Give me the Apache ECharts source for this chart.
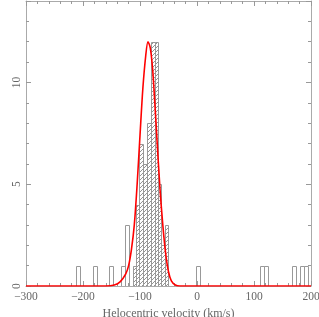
<!DOCTYPE html>
<html><head><meta charset="utf-8">
<script src="https://cdn.jsdelivr.net/npm/echarts@6/dist/echarts.min.js"></script>
<style>html,body{margin:0;padding:0;background:#fff}#c{width:319px;height:317px}</style>
</head><body><div id="c"></div>
<script>
// Histogram bins (km/s) and counts
const binLeft   = [-213, -183, -155, -134, -127, -113, -107, -101, -95, -88, -81, -74, -68, -64, -57, -1, 111, 118, 167, 181, 188];
const binRight  = [-206, -176, -148, -127, -120, -107, -101, -95, -88, -81, -74, -68, -64, -57, -50, 6, 118, 125, 174, 188, 195];
const binCount  = [1, 1, 1, 1, 3, 1, 4, 7, 6, 8, 12, 12, 5, 2, 3, 1, 1, 1, 1, 1, 1];
const binHatched= [0, 0, 0, 0, 0, 1, 1, 1, 1, 1, 1, 1, 1, 1, 1, 0, 0, 0, 0, 0, 0];
// Red fitted curve
const curveX = [-300, -160, -145, -135, -125, -120, -115, -110, -105, -100, -95, -90, -86, -82, -78, -74, -70, -65, -60, -55, -50, -45, -38, -30, 200];
const curveY = [0, 0, 0.05, 0.2, 0.6, 1.0, 1.8, 3.0, 5.0, 7.4, 9.7, 11.3, 12.0, 11.7, 10.7, 9.0, 7.1, 4.8, 3.0, 1.6, 0.7, 0.25, 0.05, 0, 0];
const xTitle = 'Helocentric velocity (km/s)';
const yTitle = 'N';

const cv = document.createElement('canvas');
cv.width = 4; cv.height = 4;
const cx = cv.getContext('2d');
cx.fillStyle = '#fff'; cx.fillRect(0,0,4,4);
cx.strokeStyle = '#666'; cx.lineWidth = 0.7;
cx.beginPath(); cx.moveTo(-1,5); cx.lineTo(5,-1); cx.stroke();
const hatch = {image: cv, repeat: 'repeat'};

const barData = binLeft.map((l,i)=>[l, binRight[i], binCount[i], binHatched[i]]);
const curveData = curveX.map((x,i)=>[x, curveY[i]]);

const font = 'Liberation Serif';
const txt = '#666';
const frame = {show:true, onZero:false, lineStyle:{color:'#aaa', width:1}};
const noLine = {show:false, onZero:false};
const chart = echarts.init(document.getElementById('c'), null, {renderer:'canvas'});
chart.setOption({
  animation:false,
  grid:{left:26, right:8, top:1, bottom:31, containLabel:false, outerBoundsMode:'none'},
  xAxis:[
    {type:'value', min:-300, max:200, interval:100, position:'bottom',
     axisLine:frame, axisTick:{show:true, inside:true, length:5, lineStyle:{color:'#999'}},
     minorTick:{show:true, splitNumber:5, length:3, lineStyle:{color:'#999'}},
     splitLine:{show:false},
     axisLabel:{color:txt, fontFamily:font, fontSize:11.5, margin:5,
       formatter:v=> v<0 ? '\u2212'+Math.abs(v) : String(v)},
     name:xTitle, nameLocation:'middle', nameGap:20,
     nameTextStyle:{color:txt, fontFamily:font, fontSize:12}},
    {type:'value', min:-300, max:200, interval:100, position:'top',
     axisLine:frame, axisTick:{show:true, inside:true, length:5, lineStyle:{color:'#999'}},
     minorTick:{show:true, splitNumber:5, length:3, lineStyle:{color:'#999'}},
     splitLine:{show:false}, axisLabel:{show:false}}
  ],
  yAxis:[
    {type:'value', min:0, max:14, interval:1, position:'left',
     axisLine:frame, axisTick:{show:true, inside:true, length:3, lineStyle:{color:'#999'}},
     splitLine:{show:false},
     axisLabel:{color:txt, fontFamily:font, fontSize:11.5, rotate:90, margin:3,
       formatter:v=> (v%5===0 && v<14) ? String(v) : ''},
     name:yTitle, nameLocation:'middle', nameGap:18, nameRotate:90,
     nameTextStyle:{color:txt, fontFamily:font, fontSize:12}},
    {type:'value', min:0, max:14, interval:5, position:'left', offset:0,
     axisLine:noLine, axisTick:{show:true, inside:true, length:5, lineStyle:{color:'#999'}},
     splitLine:{show:false}, axisLabel:{show:false}},
    {type:'value', min:0, max:14, interval:1, position:'right', offset:0,
     axisLine:frame, axisTick:{show:true, inside:true, length:3, lineStyle:{color:'#999'}},
     splitLine:{show:false}, axisLabel:{show:false}},
    {type:'value', min:0, max:14, interval:5, position:'right', offset:0,
     axisLine:noLine, axisTick:{show:true, inside:true, length:5, lineStyle:{color:'#999'}},
     splitLine:{show:false}, axisLabel:{show:false}}
  ],
  series:[
    {type:'custom', xAxisIndex:0, yAxisIndex:0, data:barData, clip:true,
     renderItem:function(params, api){
       const l = api.value(0), r = api.value(1), n = api.value(2), h = api.value(3);
       const p0 = api.coord([l, 0]), p1 = api.coord([r, n]);
       const x0 = Math.round(p0[0])+0.5, x1 = Math.round(p1[0])+0.5;
       const y0 = Math.round(p0[1])+0.5, y1 = Math.round(p1[1])+0.5;
       return {type:'rect', shape:{x:x0, y:y1, width:x1-x0, height:y0-y1},
         style:{fill: h ? hatch : 'rgba(0,0,0,0)', stroke:'#999', lineWidth:1}};
     }},
    {type:'line', xAxisIndex:0, yAxisIndex:0, data:curveData, smooth:0.3,
     symbol:'none', lineStyle:{color:'#ff0000', width:1.6}, z:5}
  ]
});
</script></body></html>
